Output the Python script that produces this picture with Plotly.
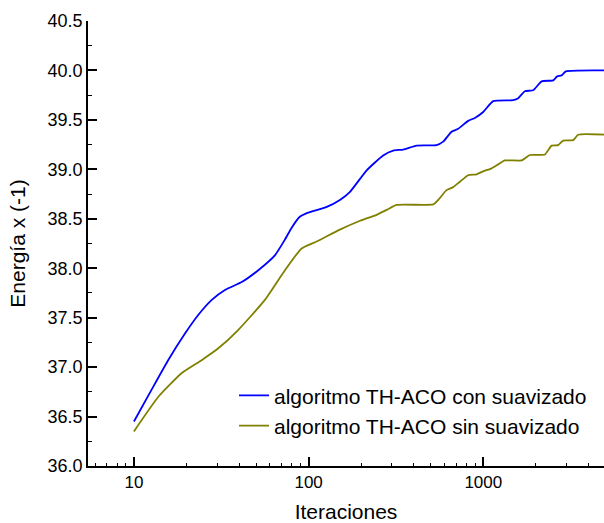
import plotly.graph_objects as go

# Data
blue_x = [10, 12.6, 15.7, 19.6, 23.4, 27.9, 33.2, 41.4, 51.5, 64.1,
          73.2, 80, 89, 97, 127, 151, 172, 215, 267, 305,
          348, 415, 540, 589, 658, 718, 819, 895, 999, 1139,
          1483, 1585, 1730, 1930, 2157, 2513, 2649, 2806, 2970, 5000]
blue_y = [36.45, 36.77, 37.07, 37.34, 37.53, 37.68, 37.78, 37.86, 37.98, 38.13,
          38.29, 38.41, 38.52, 38.555, 38.62, 38.69, 38.77, 38.99, 39.14, 39.19,
          39.20, 39.24, 39.245, 39.28, 39.38, 39.41, 39.49, 39.52, 39.58, 39.69,
          39.70, 39.72, 39.79, 39.80, 39.89, 39.90, 39.94, 39.95, 39.99, 40.0]

olive_x = [10, 13.8, 18.8, 24.4, 30.4, 39.5, 56.2, 73.2, 91.2, 111,
           151, 197, 245, 280, 319, 517, 552, 616, 672, 735,
           819, 915, 999, 1116, 1217, 1329, 1656, 1848, 2252, 2460,
           2685, 2867, 3270, 3491, 5000]
olive_y = [36.35, 36.70, 36.94, 37.07, 37.19, 37.375, 37.68, 37.98, 38.20, 38.27,
           38.39, 38.48, 38.54, 38.59, 38.64, 38.645, 38.69, 38.79, 38.82, 38.875,
           38.94, 38.95, 38.98, 39.01, 39.05, 39.09, 39.09, 39.145, 39.15, 39.24,
           39.245, 39.29, 39.295, 39.35, 39.35]

series_names = ["algoritmo TH-ACO con suavizado", "algoritmo TH-ACO sin suavizado"]
x_tickvals = [10, 100, 1000]
x_ticktext = ["10", "100", "1000"]
x_minor = sorted(set(m * 10 ** d for d in range(0, 4) for m in range(1, 10)))
x_minor = [v for v in x_minor if 5 <= v <= 5000]

FONT = "Liberation Sans, Arial, sans-serif"
XRANGE = [0.737, 3.691]

fig = go.Figure()
fig.add_trace(go.Scatter(x=blue_x, y=blue_y, mode="lines", name=series_names[0],
                         line=dict(color="#0000FF", width=1.8, shape="spline", smoothing=0.5)))
fig.add_trace(go.Scatter(x=olive_x, y=olive_y, mode="lines", name=series_names[1],
                         line=dict(color="#808000", width=1.8, shape="spline", smoothing=0.5)))

fig.update_layout(
    width=604, height=523,
    margin=dict(l=88, r=0, t=21, b=57),
    paper_bgcolor="white", plot_bgcolor="white",
    font=dict(family=FONT, color="black", size=17),
    showlegend=True,
    legend=dict(x=0.283, y=0.204, xanchor="left", yanchor="top",
                bgcolor="rgba(0,0,0,0)", font=dict(size=21, family=FONT),
                tracegroupgap=0, itemwidth=30),
    xaxis=dict(type="log", range=XRANGE, automargin=False,
               tickmode="array", tickvals=x_tickvals, ticktext=x_ticktext,
               ticks="inside", ticklen=9, tickwidth=1.5, tickcolor="black",
               showline=True, linecolor="black", linewidth=1.5,
               showgrid=False, zeroline=False,
               tickfont=dict(size=17),
               title=dict(text="Iteraciones", font=dict(size=21), standoff=18),
               minor=dict(tickmode="array", tickvals=x_minor, ticks="inside",
                          ticklen=3, tickcolor="black", tickwidth=1, showgrid=False)),
    xaxis2=dict(type="log", range=XRANGE, overlaying="x", side="top", anchor="y",
                automargin=False,
                tickmode="array", tickvals=x_minor, ticks="inside", ticklen=3,
                tickcolor="black", tickwidth=1, showticklabels=False,
                showline=True, linecolor="black", linewidth=1.5,
                showgrid=False, zeroline=False),
    yaxis=dict(range=[36, 40.5], dtick=0.5, tick0=36, tickformat=".1f",
               automargin=False,
               ticks="inside", ticklen=9, tickwidth=1.5, tickcolor="black",
               showline=True, linecolor="black", linewidth=1.5,
               showgrid=False, zeroline=False,
               tickfont=dict(size=18),
               title=dict(text="Energía x (-1)", font=dict(size=21), standoff=16),
               minor=dict(dtick=0.25, ticks="inside", ticklen=4,
                          tickcolor="black", tickwidth=1, showgrid=False)),
)

fig.write_html("out.html")
